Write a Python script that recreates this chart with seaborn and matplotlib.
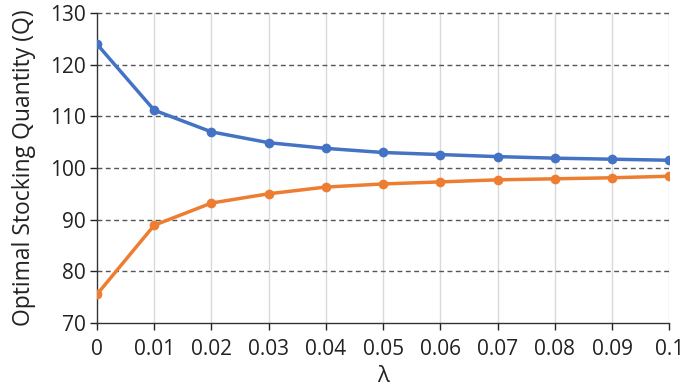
import numpy as np
import pandas as pd
import matplotlib
matplotlib.use("Agg")
import matplotlib.pyplot as plt
import seaborn as sns

lam = [0, 0.01, 0.02, 0.03, 0.04, 0.05, 0.06, 0.07, 0.08, 0.09, 0.1]
tick_labels = ["0", "0.01", "0.02", "0.03", "0.04", "0.05", "0.06", "0.07", "0.08", "0.09", "0.1"]
upper = [124.0, 111.2, 107.0, 104.9, 103.8, 103.0, 102.6, 102.2, 101.9, 101.7, 101.5]
lower = [75.5, 88.9, 93.2, 95.0, 96.3, 96.9, 97.3, 97.7, 97.9, 98.1, 98.4]

df = pd.DataFrame({
    "lam": lam * 2,
    "Q": upper + lower,
    "series": ["upper"] * len(lam) + ["lower"] * len(lam),
})

sns.set_style("white")
plt.rcParams["font.family"] = ["Open Sans", "DejaVu Sans"]

fig = plt.figure(figsize=(6.85, 3.89), dpi=100)
ax = fig.add_axes([0.1416, 0.1704, 0.977 - 0.1416, 0.966 - 0.1704])

sns.lineplot(data=df, x="lam", y="Q", hue="series",
             palette={"upper": "#4472C4", "lower": "#ED7D31"},
             marker="o", markersize=7, markeredgewidth=0,
             linewidth=2.5, legend=False, ax=ax, zorder=3)

ax.set_xlim(0, 0.1)
ax.set_ylim(70, 130)
ax.set_xticks(lam)
ax.set_xticklabels(tick_labels)
ax.set_yticks([70, 80, 90, 100, 110, 120, 130])

for y in [80, 90, 100, 110, 120, 130]:
    ax.axhline(y, color="#555555", lw=1.0, ls=(0, (3.5, 2.5)), zorder=1, clip_on=False)
for x in lam[1:]:
    ax.axvline(x, color="#d9d9d9", lw=1.0, zorder=0.5)

for s in ["top", "right"]:
    ax.spines[s].set_visible(False)
for s in ["left", "bottom"]:
    ax.spines[s].set_color("#333333")
    ax.spines[s].set_linewidth(1.0)

ax.tick_params(axis="both", which="major", labelsize=15, colors="#222222",
               length=5, width=1.0, direction="out", pad=3)
ax.tick_params(axis="x", pad=7)
ax.tick_params(left=True, bottom=True)

ax.set_xlabel("λ", fontsize=16, labelpad=4, color="#222222")
ax.set_ylabel("Optimal Stocking Quantity (Q)", fontsize=16.5, labelpad=10, color="#222222")

fig.savefig("out.png", dpi=100)
